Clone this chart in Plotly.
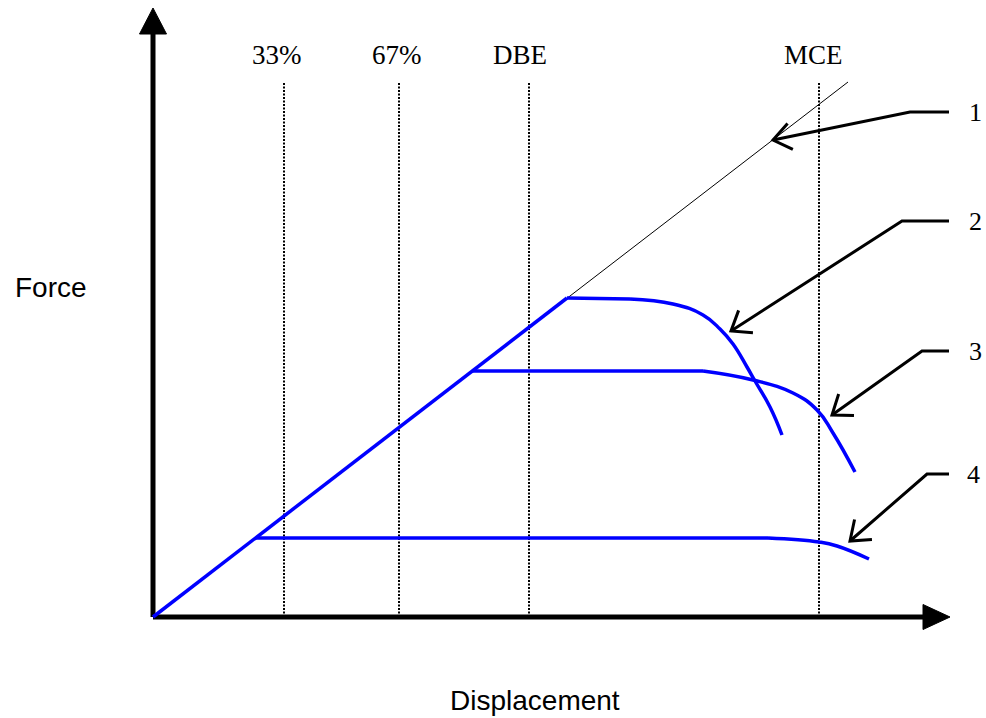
import math
import plotly.graph_objects as go

# ---- Data (chart units: displacement on x, force on y; origin at 0,0) ----
elastic_x = [0, 695]
elastic_y = [0, 535]

loading_x = [0, 414]
loading_y = [0, 319]

# post-yield curves: flat plateau then degrading tail
curve2_plateau_x = [414, 477]
curve2_plateau_y = [319, 318]
curve2_tail_x = [477, 520, 550, 567, 580, 594, 602, 617, 629]
curve2_tail_y = [318, 313, 302, 288, 273, 250, 236, 210, 182]

curve3_plateau_x = [319, 550]
curve3_plateau_y = [246, 246]
curve3_tail_x = [550, 600, 640, 664, 680, 702]
curve3_tail_y = [246, 237, 224, 207, 184, 145]

curve4_plateau_x = [103, 615]
curve4_plateau_y = [79, 79]
curve4_tail_x = [615, 666, 684, 716]
curve4_tail_y = [79, 75, 71, 58]

level_labels = ["33%", "67%", "DBE", "MCE"]
level_x = [131, 246, 376, 666]
level_label_x = [124, 244, 367, 660]
level_top = 535
level_label_y = 562

callout_labels = ["1", "2", "3", "4"]
callout_y = [505, 396, 266, 143]
callout_elbow_x = [757, 749, 769, 774]
callout_end_x = [796, 796, 796, 796]
callout_tip_x = [620, 578, 679, 697]
callout_tip_y = [477, 286, 202, 76]
callout_label_x = [822, 822, 822, 820]

x_axis_end = 770
x_arrow_tip = 797
y_axis_end = 583
y_arrow_tip = 609

x_range = [-153, 833]
y_range = [-101, 617]

BLUE = "#0000FF"
SERIF = "Liberation Serif, Times New Roman, serif"
SANS = "Liberation Sans, Arial, sans-serif"

fig = go.Figure()

def line(xs, ys, color="black", width=1, dash=None, shape="linear", smoothing=1):
    ln = dict(color=color, width=width, dash=dash, shape=shape)
    if shape == "spline":
        ln["smoothing"] = smoothing
    fig.add_trace(go.Scatter(x=xs, y=ys, mode="lines", line=ln,
                             hoverinfo="skip", showlegend=False))

# reference dotted levels
for lx in level_x:
    line([lx, lx], [0, level_top], width=2, dash="2px,1.5px")

# elastic line (1)
line(elastic_x, elastic_y, width=1)

# axes
line([0, x_axis_end], [0, 0], width=5)
line([0, 0], [0, y_axis_end], width=5)
fig.add_trace(go.Scatter(x=[x_axis_end, x_arrow_tip, x_axis_end, x_axis_end],
                         y=[12.5, 0, -12.5, 12.5], mode="lines", fill="toself",
                         fillcolor="black", line=dict(color="black", width=1),
                         hoverinfo="skip", showlegend=False))
fig.add_trace(go.Scatter(x=[-13.5, 0, 13.5, -13.5],
                         y=[y_axis_end, y_arrow_tip, y_axis_end, y_axis_end], mode="lines",
                         fill="toself", fillcolor="black", line=dict(color="black", width=1),
                         hoverinfo="skip", showlegend=False))

# blue curves
for px_, py_, tx_, ty_ in [(curve2_plateau_x, curve2_plateau_y, curve2_tail_x, curve2_tail_y),
                           (curve3_plateau_x, curve3_plateau_y, curve3_tail_x, curve3_tail_y),
                           (curve4_plateau_x, curve4_plateau_y, curve4_tail_x, curve4_tail_y)]:
    line(px_, py_, color=BLUE, width=3.5)
    line(tx_, ty_, color=BLUE, width=3.5, shape="spline", smoothing=1.3)
line(loading_x, loading_y, color=BLUE, width=3.5)

# callouts
head_len, head_ang = 22, math.radians(37)
for i in range(4):
    ex, ey = callout_elbow_x[i], callout_y[i]
    tx, ty = callout_tip_x[i], callout_tip_y[i]
    line([callout_end_x[i], ex, tx], [ey, ey, ty], width=3)
    a = math.atan2(ey - ty, ex - tx)
    hx = [tx + head_len * math.cos(a + head_ang), tx, tx + head_len * math.cos(a - head_ang)]
    hy = [ty + head_len * math.sin(a + head_ang), ty, ty + head_len * math.sin(a - head_ang)]
    line(hx, hy, width=3)
    fig.add_annotation(x=callout_label_x[i], y=ey, text=callout_labels[i], showarrow=False,
                       font=dict(family=SERIF, size=26, color="black"),
                       xanchor="center", yanchor="middle")

for lab, lx in zip(level_labels, level_label_x):
    fig.add_annotation(x=lx, y=level_label_y, text=lab, showarrow=False,
                       font=dict(family=SERIF, size=27, color="black"),
                       xanchor="center", yanchor="middle")

fig.add_annotation(x=-140, y=330, text="Force", showarrow=False,
                   font=dict(family=SANS, size=28, color="black"),
                   xanchor="left", yanchor="middle")
fig.add_annotation(x=382, y=-83, text="Displacement", showarrow=False,
                   font=dict(family=SANS, size=28, color="black"),
                   xanchor="center", yanchor="middle")

fig.update_xaxes(range=x_range, visible=False, fixedrange=True)
fig.update_yaxes(range=y_range, visible=False, fixedrange=True)
fig.update_layout(width=986, height=718, autosize=False,
                  margin=dict(l=0, r=0, t=0, b=0),
                  paper_bgcolor="white", plot_bgcolor="white")

fig.write_html("out.html", config={"displayModeBar": False},
               post_script="document.body.style.margin='0';")
